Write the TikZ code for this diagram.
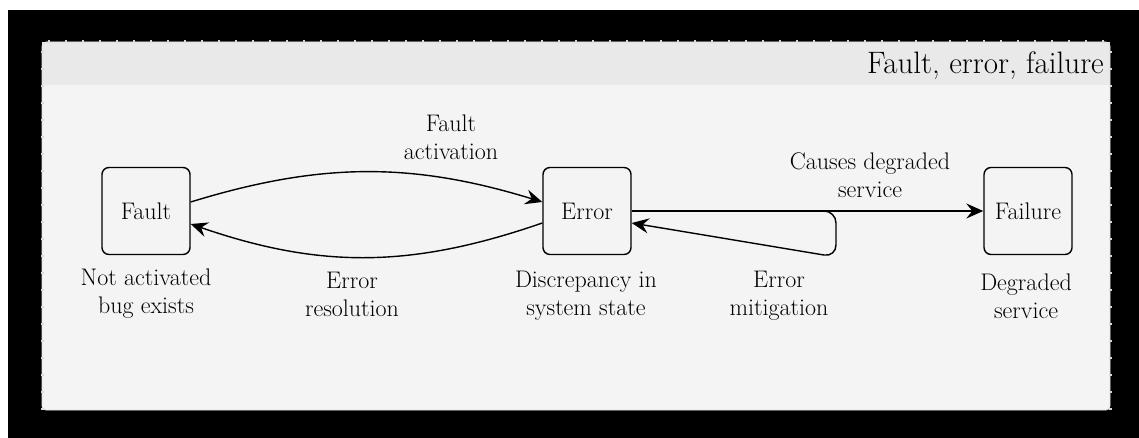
\documentclass[tikz,border=0pt]{standalone}
\usetikzlibrary{arrows.meta}

\definecolor{panelbg}{HTML}{F4F4F4}
\definecolor{headbg}{HTML}{E9E9E9}
\definecolor{tickgray}{HTML}{D8D8D8}

\tikzset{
    statebox/.style={draw, line width=1.4pt, rounded corners=7pt, minimum width=88pt,
        minimum height=87pt, inner sep=0pt, font=\fontsize{24}{28}\selectfont},
    lbl/.style={align=center, inner sep=0pt, font=\fontsize{24}{28}\selectfont},
    trans/.style={line width=1.4pt, -{Stealth[length=17pt, width=15pt, inset=6pt]}}
}

\begin{document}
\begin{tikzpicture}[x=1pt, y=-1pt]
        \useasboundingbox (0,0) rectangle (1139,438);
        \fill[white] (0,0) rectangle (1139,438);
        \fill[black] (8,10) rectangle (1139,438);
        % panel with its header strip
        \fill[panelbg, rounded corners=4pt] (42,42) rectangle (1110,410);
        \fill[headbg] (42,42) rectangle (1110,85);
        \draw[tickgray, line width=3pt, dash pattern=on 2pt off 15pt] (1110,410) -- (1110,42) -- (42,42) -- (42,410);
        \draw[panelbg!85!gray, line width=0.8pt, rounded corners=4pt] (42,42) rectangle (1110,410);
        \node[anchor=base east, inner sep=0pt, font=\fontsize{31}{36}\selectfont] (title) at (1104,74) {Fault, error, failure};

        % states
        \node[statebox] (fault) at (146,211) {Fault};
        \node[statebox] (error) at (587,211) {Error};
        \node[statebox] (failure) at (1028,211) {Failure};

        \node[lbl] (faultinfo) at (146,294) {Not activated\\bug exists};
        \node[lbl] (errorinfo) at (586,296) {Discrepancy in\\system state};
        \node[lbl] (failureinfo) at (1026,296) {Degraded\\service};

        % transitions
        \draw[trans] ([yshift=9pt]fault.east) .. controls +(130,-40) and +(-130,-40) .. ([yshift=9pt]error.west);
        \node[lbl] (activation) at (451,137) {Fault\\activation};
        \draw[trans] ([yshift=-12pt]error.west) .. controls +(-130,45) and +(130,45) .. ([yshift=-13pt]fault.east);
        \node[lbl] (resolution) at (352,294) {Error\\resolution};

        \draw[trans] (error.east) -- (failure.west);
        \node[lbl] (degrade) at (870,175) {Causes degraded\\service};

        \coordinate (loopstart) at (725,211);
        \draw[trans, rounded corners=12pt] (loopstart) -- (836,211) -- (836,257) -- ([yshift=-12pt]error.east);
        \node[lbl] (mitigation) at (779,296) {Error\\mitigation};
    \end{tikzpicture}
\end{document}
